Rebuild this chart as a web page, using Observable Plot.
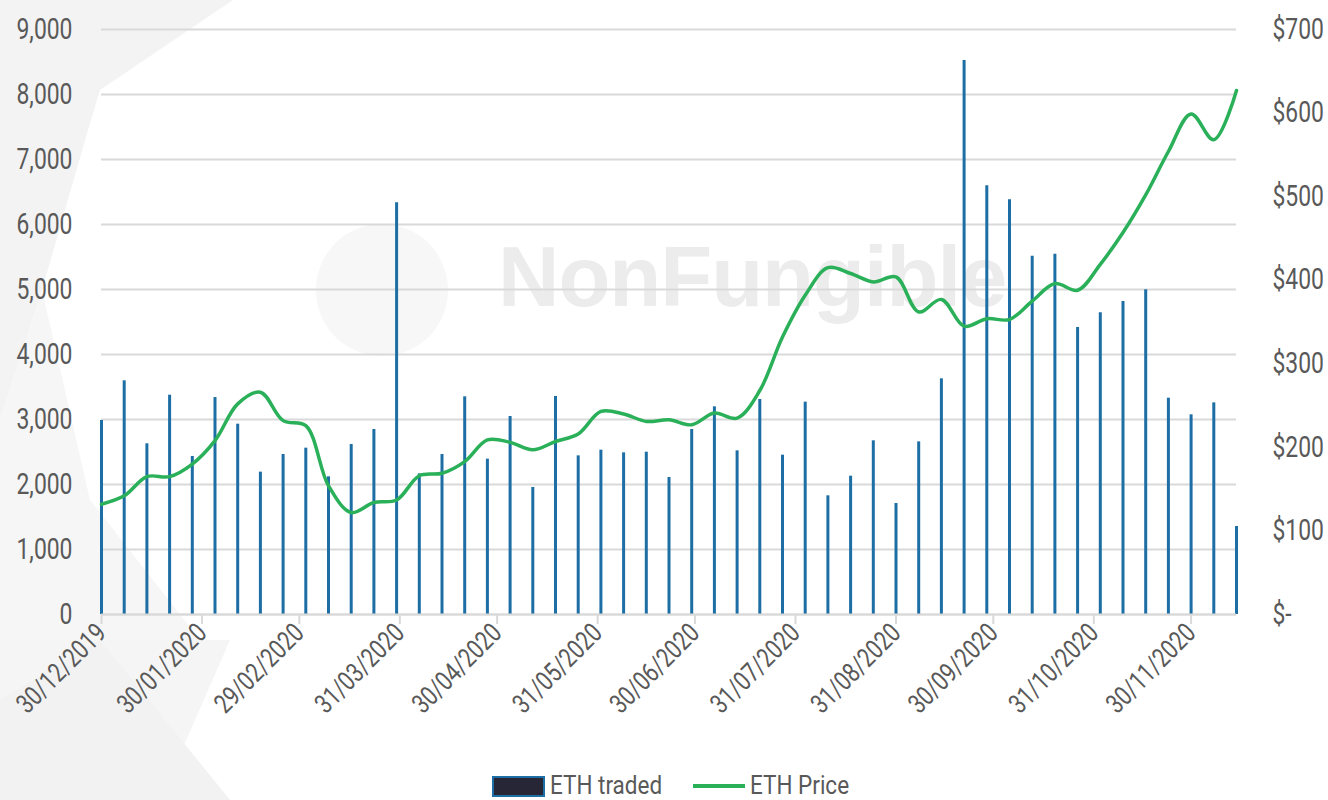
<!DOCTYPE html>
<html><head><meta charset="utf-8">
<script src="https://cdn.jsdelivr.net/npm/d3@7"></script>
<script src="https://cdn.jsdelivr.net/npm/@observablehq/plot@0.6"></script>
<style>
body{margin:0;background:#fff;font-family:Roboto,"Liberation Sans",sans-serif;}
#wrap{position:relative;width:1328px;height:800px;overflow:hidden;background:#fff;}
#bg{position:absolute;left:0;top:0;}
#wm{position:absolute;left:498px;top:228px;font-family:"Liberation Sans",Arial,sans-serif;font-weight:bold;font-size:85px;color:#ececec;letter-spacing:-1px;white-space:nowrap;}
#chart{position:absolute;left:0;top:0;}
#legend{position:absolute;left:0;top:772px;width:1328px;height:28px;color:#595959;font-size:25px;}
.lg{position:absolute;top:0;white-space:nowrap;line-height:28px;}
.sq{transform:scaleX(0.9);transform-origin:left center;}
</style></head>
<body><div id="wrap">
<svg id="bg" width="1328" height="800">
  <polygon points="0,0 233,0 100,90 88,130 42,290 0,420" fill="#f3f3f3"/>
  <polygon points="0,420 42,290 90,500 200,640 0,640" fill="#f6f6f6"/>
  <polygon points="0,640 230,640 160,800 0,800" fill="#f5f5f5"/>
  <polygon points="0,700 100,640 230,800 0,800" fill="#f2f2f2"/>
  <circle cx="382" cy="290" r="66" fill="#f7f7f7"/>
</svg>
<div id="wm">NonFungible</div>
<div id="chart"></div>
<div id="legend">
  <div class="lg" style="left:492px;top:4px;width:49px;height:17px;background:#262637;border:2px solid #1c6ea4;"></div>
  <div class="lg sq" style="left:550px;">ETH traded</div>
  <div class="lg" style="left:693px;top:12px;width:52px;height:4px;background:#2bb05a;"></div>
  <div class="lg sq" style="left:750px;">ETH Price</div>
</div>
</div>
<script>
const weeks = ["2019-12-30","2020-01-06","2020-01-13","2020-01-20","2020-01-27","2020-02-03","2020-02-10","2020-02-17","2020-02-24","2020-03-02","2020-03-09","2020-03-16","2020-03-23","2020-03-30","2020-04-06","2020-04-13","2020-04-20","2020-04-27","2020-05-04","2020-05-11","2020-05-18","2020-05-25","2020-06-01","2020-06-08","2020-06-15","2020-06-22","2020-06-29","2020-07-06","2020-07-13","2020-07-20","2020-07-27","2020-08-03","2020-08-10","2020-08-17","2020-08-24","2020-08-31","2020-09-07","2020-09-14","2020-09-21","2020-09-28","2020-10-05","2020-10-12","2020-10-19","2020-10-26","2020-11-02","2020-11-09","2020-11-16","2020-11-23","2020-11-30","2020-12-07","2020-12-14"];
const ethTraded = [2985,3595,2626,3374,2431,3338,2928,2190,2462,2559,2118,2615,2846,6333,2164,2462,3349,2390,3046,1954,3354,2441,2528,2487,2497,2108,2846,3195,2518,3308,2451,3267,1826,2128,2672,1708,2656,3626,8523,6595,6380,5513,5543,4415,4641,4815,4995,3328,3072,3256,1354];
const ethPrice = [132,142,165,165,180,208,252,266,232,226,154,122,134,137,166,169,183,209,206,197,207,216,243,240,231,233,227,241,235,268,332,382,415,408,398,404,362,377,345,354,353,375,396,388,419,457,502,554,599,568,627];
const xTickDates = ["2019-12-30","2020-01-30","2020-02-29","2020-03-31","2020-04-30","2020-05-31","2020-06-30","2020-07-31","2020-08-31","2020-09-30","2020-10-31","2020-11-30"];
const tradeTicks = [0,1000,2000,3000,4000,5000,6000,7000,8000,9000];
const priceTicks = [0,100,200,300,400,500,600,700];
const priceLabels = ["$-","$100","$200","$300","$400","$500","$600","$700"];

const parse = d3.utcParse("%Y-%m-%d");
const fmtDate = d3.utcFormat("%d/%m/%Y");
const k = 9000/700;
const rows = weeks.map((w,i)=>({date:parse(w), traded:ethTraded[i], price:ethPrice[i]*k}));
const xt = xTickDates.map(parse);

const chart = Plot.plot({
  width:1328, height:772,
  marginLeft:101, marginRight:92, marginTop:29, marginBottom:158,
  style:{background:"transparent", fontFamily:'Roboto,"Liberation Sans",sans-serif', color:"#595959"},
  x:{type:"utc", domain:[parse(weeks[0]), parse(weeks[weeks.length-1])]},
  y:{domain:[0,9000]},
  marks:[
    Plot.gridY(tradeTicks,{stroke:"#d9d9d9", strokeOpacity:1, strokeWidth:2}),
    Plot.ruleX(rows,{x:"date", y1:0, y2:"traded", stroke:"#1c6ea4", strokeWidth:3}),
    Plot.ruleY([0],{stroke:"#d9d9d9", strokeWidth:2}),
    Plot.axisX({ticks:xt, tickFormat:fmtDate, tickRotate:-45, tickSize:10, tickPadding:4, stroke:"#d9d9d9", strokeWidth:2, fill:"#595959", fontSize:27, label:null}),
    Plot.axisY({anchor:"left", ticks:tradeTicks, tickFormat:d3.format(","), tickSize:0, tickPadding:29, fontSize:29, fill:"#595959", label:null}),
    Plot.axisY({anchor:"right", ticks:priceTicks.map(p=>p*k), tickFormat:(d,i)=>priceLabels[i], tickSize:0, tickPadding:36, fontSize:29, fill:"#595959", label:null}),
    Plot.line(rows,{x:"date", y:"price", stroke:"#2bb05a", strokeWidth:3.5, curve:"catmull-rom"})
  ]
});
document.getElementById("chart").appendChild(chart);
// emulate the condensed typeface of the original
chart.querySelectorAll("text").forEach(t=>{
  const L = t.getComputedTextLength();
  if (L > 0) { t.setAttribute("textLength", (L*0.79).toFixed(1)); t.setAttribute("lengthAdjust","spacingAndGlyphs"); }
});
</script>
</body></html>
